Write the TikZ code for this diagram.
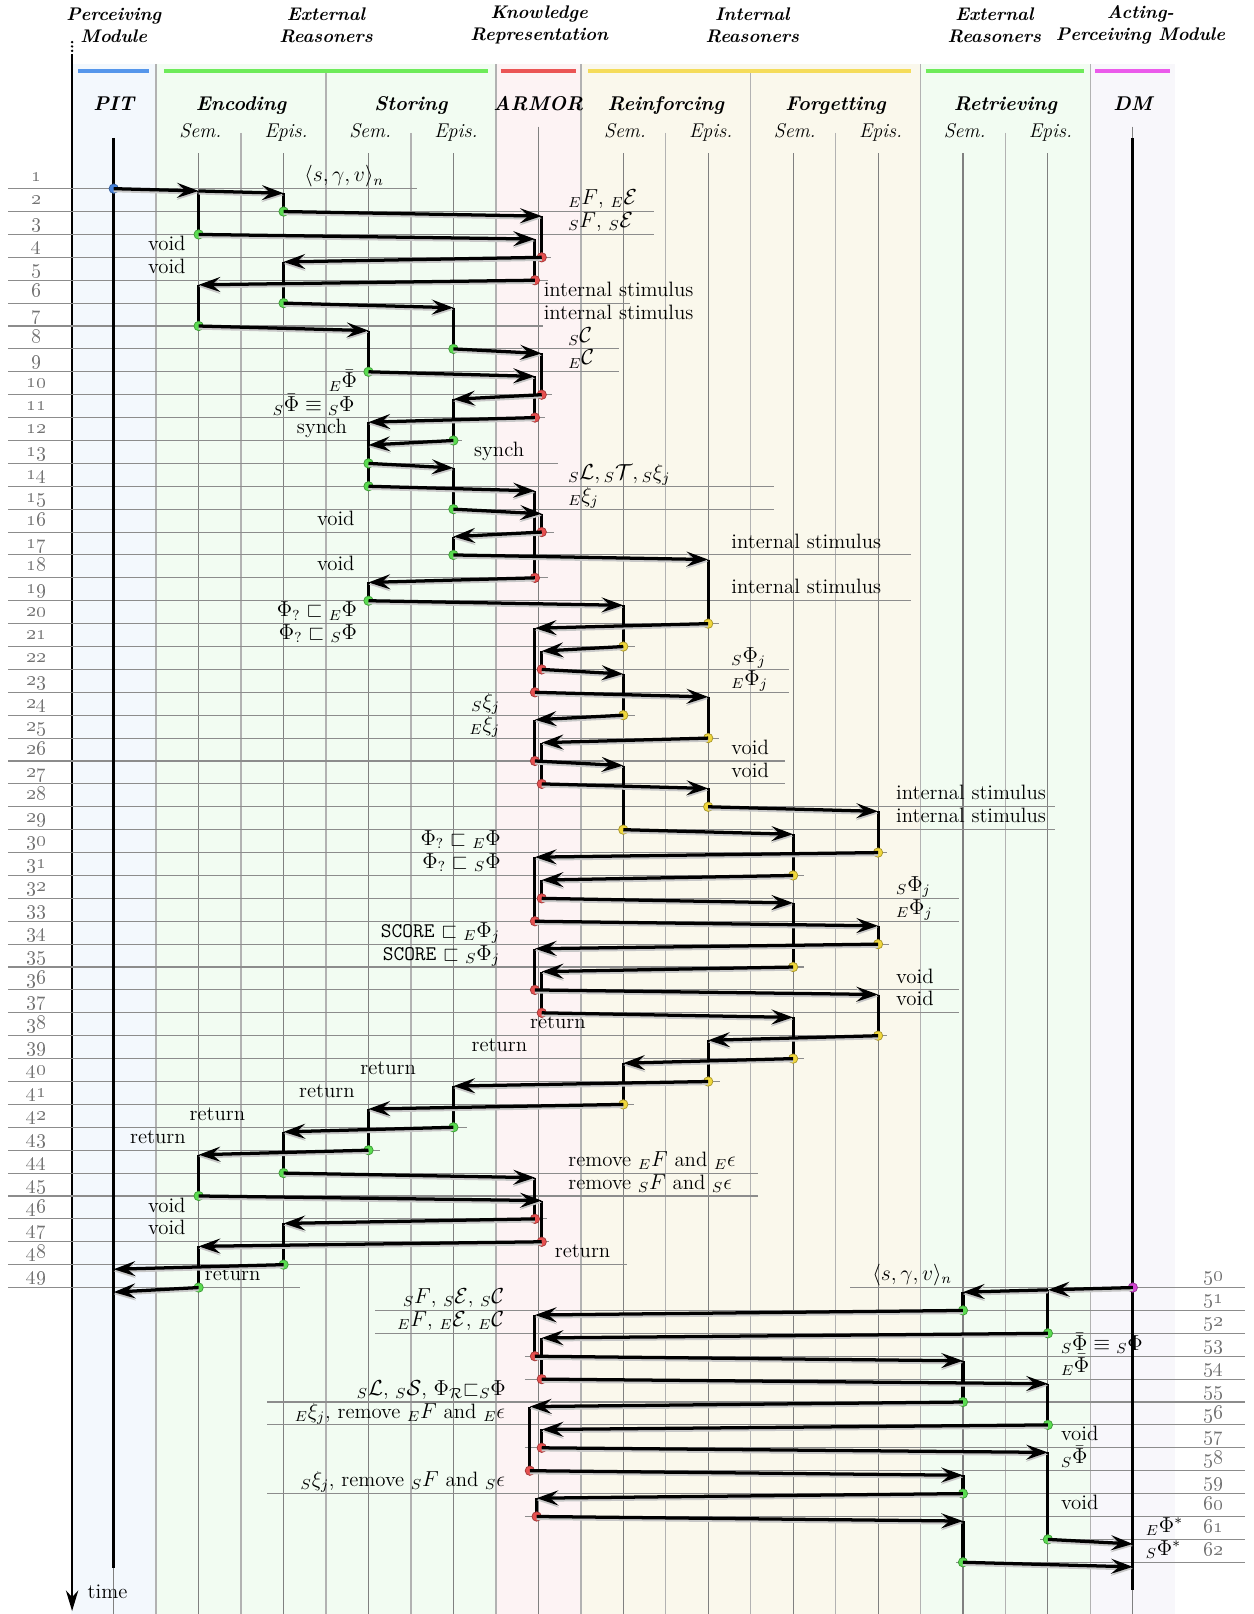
\documentclass[tikz,border=0pt]{standalone}
\usepackage{amsmath,amssymb}
\usepackage{xcolor}
\usepackage{tikz}
\usetikzlibrary{arrows.meta}

\definecolor{bgblue}{RGB}{243,248,253}
\definecolor{bggreen}{RGB}{242,252,242}
\definecolor{bgred}{RGB}{253,243,244}
\definecolor{bgyellow}{RGB}{250,248,236}
\definecolor{bgviolet}{RGB}{248,247,251}
\definecolor{barblue}{RGB}{85,150,235}
\definecolor{bargreen}{RGB}{110,235,90}
\definecolor{barred}{RGB}{235,85,85}
\definecolor{baryellow}{RGB}{245,220,90}
\definecolor{barviolet}{RGB}{235,90,235}
\definecolor{dotblue}{RGB}{70,130,220}
\definecolor{dotgreen}{RGB}{90,220,80}
\definecolor{dotred}{RGB}{230,80,80}
\definecolor{dotyellow}{RGB}{240,215,60}
\definecolor{dotviolet}{RGB}{210,70,210}

\begin{document}
\begin{tikzpicture}[x=1.65cm, y=-0.4448cm,
    msg/.style={line width=1.8pt, -{Stealth[length=4.2mm, width=2.9mm, inset=1.6mm]},
        preaction={draw=black!22, line width=1.8pt, transform canvas={yshift=-1.1pt}}},
    act/.style={line width=1.7pt},
    rowline/.style={black!45, line width=0.6pt},
    life/.style={black!50, line width=0.6pt},
    sep/.style={black!30, line width=0.8pt},
    lbl/.style={font=\fontsize{11.5}{13}\selectfont, inner sep=0pt, anchor=base west},
    lblr/.style={lbl, anchor=base east},
    rownum/.style={font=\fontsize{11}{13}\selectfont, text=black!55, inner sep=0pt, anchor=base},
    head/.style={font=\fontsize{10.1}{12.2}\selectfont\bfseries\itshape, align=center, inner sep=0pt},
    sub/.style={font=\fontsize{11}{12}\selectfont\itshape, inner sep=0pt, anchor=base}]
\useasboundingbox (-1.339,-7.24) rectangle (13.424,63.26);

% column backgrounds
\fill[bgblue] (-0.5,-4.45) rectangle (0.5,63.26);
\fill[bggreen] (0.5,-4.45) rectangle (4.5,63.26);
\fill[bgred] (4.5,-4.45) rectangle (5.5,63.26);
\fill[bgyellow] (5.5,-4.45) rectangle (9.5,63.26);
\fill[bggreen] (9.5,-4.45) rectangle (11.5,63.26);
\fill[bgviolet] (11.5,-4.45) rectangle (12.5,63.26);

% separators and lifelines
\foreach \x in {0.5,4.5,5.5,9.5,11.5}
    \draw[sep] (\x,-4.45) -- (\x,63.26);
\foreach \x in {2.5,7.5}
    \draw[sep] (\x,-4.1) -- (\x,63.26);
\foreach \x in {1.5,3.5,6.5,8.5,10.5}
    \draw[sep] (\x,-1.44) -- (\x,63.26);
\foreach \x in {1,2,3,4,6,7,8,9,10,11}
    \draw[life] (\x,-0.54) -- (\x,63.26);
\foreach \x in {5,12}
    \draw[life] (\x,-1.71) -- (\x,63.26);
\draw[life] (0,-1.22) -- (0,63.26);

% coloured bars
\draw[barblue, line width=2.4pt] (-0.42,-4.14) -- (0.42,-4.14);
\draw[bargreen, line width=2.4pt] (0.59,-4.14) -- (4.41,-4.14);
\draw[barred, line width=2.4pt] (4.56,-4.14) -- (5.44,-4.14);
\draw[baryellow, line width=2.4pt] (5.59,-4.14) -- (9.39,-4.14);
\draw[bargreen, line width=2.4pt] (9.56,-4.14) -- (11.43,-4.14);
\draw[barviolet, line width=2.4pt] (11.56,-4.14) -- (12.44,-4.14);

% headers
\node[head] (hpm) at (0,-6.14) {Perceiving\\Module};
\node[head] (her) at (2.5,-6.14) {External\\Reasoners};
\node[head] (hkr) at (5.01,-6.14) {Knowledge\\Representation};
\node[head] (hir) at (7.52,-6.14) {Internal\\Reasoners};
\node[head] (her2) at (10.37,-6.14) {External\\Reasoners};
\node[head] (hapm) at (12.09,-6.14) {Acting-\\Perceiving Module};

\foreach \x/\t in {0/PIT, 1.5/Encoding, 3.5/Storing, 5/ARMOR, 6.5/Reinforcing, 8.5/Forgetting, 10.5/Retrieving, 12/DM}
    \node[sub, font=\fontsize{11}{12}\selectfont\bfseries\itshape] (s\t) at (\x,-2.43) {\t};
\foreach \x in {1,3,6,8,10}
    \node[sub] (sem\x) at (\x+0.02,-1.22) {Sem.};
\foreach \x in {2,4,7,9,11}
    \node[sub] (epi\x) at (\x+0.03,-1.22) {Epis.};

% time axis
\draw[line width=1.5pt, line cap=round, dash pattern=on 0pt off 2.4pt] (-0.49,-5.4) -- (-0.49,-4.86);
\draw[line width=1.2pt, -{Stealth[length=4mm, width=2.4mm]}] (-0.49,-4.86) -- (-0.49,63.13);
\node[lbl] (time) at (-0.31,62.6) {time};

% row lines and numbers
\foreach \y/\e in {1/3.57, 2/6.36, 3/6.36, 4/5.15, 5/5.11, 6/6.08, 7/5.06, 8/5.95, 9/5.95, 10/5.16,
    11/5.08, 12/4.10, 13/5.23, 14/7.78, 15/7.78, 16/5.18, 17/9.39, 18/5.11, 19/9.39, 20/7.13,
    21/6.14, 22/7.95, 23/7.95, 24/6.14, 25/7.13, 26/7.91, 27/7.91, 28/11.08, 29/11.08, 30/9.11,
    31/8.13, 32/9.95, 33/9.95, 34/9.13, 35/8.13, 36/9.95, 37/9.95, 38/9.11, 39/8.13, 40/7.14,
    41/6.13, 42/4.16, 43/3.13, 44/7.59, 45/7.59, 46/5.10, 47/5.12, 48/6.04, 49/2.19}
    \draw[rowline] (-1.243,\y) -- (\e,\y);
\foreach \y/\s in {49/8.67, 50/3.08, 51/3.08, 52/4.84, 53/4.84, 54/1.81, 55/1.81, 56/4.84,
    57/4.84, 58/1.81, 59/4.84, 60/10.91, 61/9.92}
    \draw[rowline] (\s,\y) -- (13.32,\y);
\foreach \y in {1,...,49}
    \node[rownum] (n\y) at (-0.907,\y-0.3) {\oldstylenums{\y}};
\foreach \y in {50,...,62}
    \node[rownum] (n\y) at (12.95,\y-1.3) {\oldstylenums{\y}};

% message labels
\node[lbl] (l1) at (2.24,0.7) {$\langle s,\gamma,v\rangle_n$};
\node[lbl] (l2) at (5.35,1.7) {${}_{E}F$, ${}_{E}\mathcal{E}$};
\node[lbl] (l3) at (5.35,2.7) {${}_{S}F$, ${}_{S}\mathcal{E}$};
\node[lblr] (l4) at (0.85,3.7) {void};
\node[lblr] (l5) at (0.85,4.7) {void};
\node[lbl] (l6) at (5.06,5.7) {internal stimulus};
\node[lbl] (l7) at (5.06,6.7) {internal stimulus};
\node[lbl] (l8) at (5.35,7.7) {$_{S}\mathcal{C}$};
\node[lbl] (l9) at (5.35,8.7) {$_{E}\mathcal{C}$};
\node[lblr] (l10) at (2.87,9.7) {$_{E}\bar{\Phi}$};
\node[lblr] (l11) at (2.84,10.75) {$_{S}\bar{\Phi}\equiv{}_{S}\Phi$};
\node[lblr] (l12) at (2.75,11.7) {synch};
\node[lbl] (l13) at (4.24,12.7) {synch};
\node[lbl] (l14) at (5.35,13.7) {${}_{S}\mathcal{L},{}_{S}\mathcal{T},{}_{S}\xi_j$};
\node[lbl] (l15) at (5.35,14.7) {$_{E}\xi_j$};
\node[lblr] (l16) at (2.84,15.7) {void};
\node[lbl] (l17) at (7.27,16.7) {internal stimulus};
\node[lblr] (l18) at (2.84,17.7) {void};
\node[lbl] (l19) at (7.27,18.7) {internal stimulus};
\node[lblr] (l20) at (2.87,19.7) {$\Phi_?\sqsubset{}_{E}\Phi$};
\node[lblr] (l21) at (2.87,20.7) {$\Phi_?\sqsubset{}_{S}\Phi$};
\node[lbl] (l22) at (7.27,21.7) {$_{S}\Phi_j$};
\node[lbl] (l23) at (7.27,22.7) {$_{E}\Phi_j$};
\node[lblr] (l24) at (4.55,23.7) {$_{S}\xi_j$};
\node[lblr] (l25) at (4.55,24.7) {$_{E}\xi_j$};
\node[lbl] (l26) at (7.27,25.7) {void};
\node[lbl] (l27) at (7.27,26.7) {void};
\node[lbl] (l28) at (9.21,27.7) {internal stimulus};
\node[lbl] (l29) at (9.21,28.7) {internal stimulus};
\node[lblr] (l30) at (4.56,29.7) {$\Phi_?\sqsubset{}_{E}\Phi$};
\node[lblr] (l31) at (4.56,30.7) {$\Phi_?\sqsubset{}_{S}\Phi$};
\node[lbl] (l32) at (9.21,31.7) {$_{S}\Phi_j$};
\node[lbl] (l33) at (9.21,32.7) {$_{E}\Phi_j$};
\node[lblr] (l34) at (4.55,33.7) {\texttt{SCORE} $\sqsubset{}_{E}\Phi_j$};
\node[lblr] (l35) at (4.55,34.7) {\texttt{SCORE} $\sqsubset{}_{S}\Phi_j$};
\node[lbl] (l36) at (9.21,35.7) {void};
\node[lbl] (l37) at (9.21,36.7) {void};
\node[lbl] (l38) at (4.90,37.7) {return};
\node[lbl] (l39) at (4.21,38.7) {return};
\node[lbl] (l40) at (2.90,39.7) {return};
\node[lbl] (l41) at (2.18,40.7) {return};
\node[lbl] (l42) at (0.89,41.7) {return};
\node[lbl] (l43) at (0.19,42.7) {return};
\node[lbl] (l44) at (5.35,43.7) {remove $_{E}F$ and $_{E}\epsilon$};
\node[lbl] (l45) at (5.35,44.7) {remove $_{S}F$ and $_{S}\epsilon$};
\node[lblr] (l46) at (0.85,45.7) {void};
\node[lblr] (l47) at (0.85,46.7) {void};
\node[lbl] (l48) at (5.19,47.7) {return};
\node[lbl] (l49) at (1.07,48.7) {return};
\node[lbl] (l50) at (8.93,48.7) {$\langle s,\gamma,v\rangle_n$};
\node[lblr] (l51) at (4.6,49.7) {${}_{S}F$, ${}_{S}\mathcal{E}$, ${}_{S}\mathcal{C}$};
\node[lblr] (l52) at (4.6,50.7) {${}_{E}F$, ${}_{E}\mathcal{E}$, ${}_{E}\mathcal{C}$};
\node[lbl] (l53) at (11.15,51.75) {$_{S}\bar{\Phi}\equiv{}_{S}\Phi$};
\node[lbl] (l54) at (11.15,52.7) {$_{E}\bar{\Phi}$};
\node[lblr] (l55) at (4.62,53.7) {${}_{S}\mathcal{L}$, ${}_{S}\mathcal{S}$, $\Phi_{\mathcal{R}}{\sqsubset}_{S}\Phi$};
\node[lblr] (l56) at (4.61,54.7) {$_{E}\xi_j$, remove $_{E}F$ and $_{E}\epsilon$};
\node[lbl] (l57) at (11.15,55.7) {void};
\node[lbl] (l58) at (11.15,56.7) {$_{S}\bar{\Phi}$};
\node[lblr] (l59) at (4.61,57.7) {$_{S}\xi_j$, remove $_{S}F$ and $_{S}\epsilon$};
\node[lbl] (l60) at (11.15,58.7) {void};
\node[lbl] (l61) at (12.15,59.7) {$_{E}\Phi^*$};
\node[lbl] (l62) at (12.15,60.7) {$_{S}\Phi^*$};

% PIT and DM lifelines
\draw[act] (0,-1.22) -- (0,61.24);
\draw[act] (12,-1.22) -- (12,62.23);

% activations
\foreach \x/\ya/\yb in {1/1.1/3, 1/5.2/7, 1/43.2/45, 1/47.2/49, 2/1.2/2, 2/4.2/6, 2/42.2/44, 2/46.2/48,
    3/7.2/9, 3/11.2/14, 3/18.2/19, 3/41.2/43, 4/6.2/8, 4/10.2/12, 4/13.2/15, 4/16.2/17, 4/40.2/42,
    5.04/2.2/4, 5.04/8.2/10, 5.04/15.2/16, 5.04/21.2/22, 5.04/25.2/27, 5.04/31.2/32, 5.04/35.2/37,
    5.04/45.2/47, 5.04/51.2/53, 5.04/55.2/56, 4.96/3.2/5, 4.96/9.2/11, 4.96/14.2/18, 4.96/20.2/23,
    4.96/24.2/26, 4.96/30.2/33, 4.96/34.2/36, 4.96/44.2/46, 4.96/50.2/52, 4.9/54.2/57, 4.98/58.2/59,
    6/19.2/21, 6/22.2/24, 6/26.2/29, 6/39.2/41, 7/17.2/20, 7/23.2/25, 7/27.2/28, 7/38.2/40,
    8/29.2/31, 8/32.2/35, 8/37.2/39, 9/28.2/30, 9/33.2/34, 9/36.2/38,
    10/49.2/50, 10/52.2/54, 10/57.2/58, 10/59.2/61, 11/49.1/51, 11/53.2/55, 11/56.2/60}
    \draw[act] (\x,\ya) -- (\x,\yb);

% messages: row / sender / receiver / dot colour
\filldraw[fill=dotblue, draw=dotblue!70!black, line width=0.4pt] (0,1) circle (2.6pt);
\filldraw[fill=dotviolet, draw=dotviolet!70!black, line width=0.4pt] (12,49) circle (2.6pt);
\foreach \y/\xa/\xb/\col in {2/2/5.04/dotgreen, 3/1/4.96/dotgreen, 4/5.04/2/dotred, 5/4.96/1/dotred,
    6/2/4/dotgreen, 7/1/3/dotgreen, 8/4/5.04/dotgreen, 9/3/4.96/dotgreen, 10/5.04/4/dotred,
    11/4.96/3/dotred, 12/4/3/dotgreen, 13/3/4/dotgreen, 14/3/4.96/dotgreen, 15/4/5.04/dotgreen,
    16/5.04/4/dotred, 17/4/7/dotgreen, 18/4.96/3/dotred, 19/3/6/dotgreen, 20/7/4.96/dotyellow,
    21/6/5.04/dotyellow, 22/5.04/6/dotred, 23/4.96/7/dotred, 24/6/4.96/dotyellow, 25/7/5.04/dotyellow,
    26/4.96/6/dotred, 27/5.04/7/dotred, 28/7/9/dotyellow, 29/6/8/dotyellow, 30/9/4.96/dotyellow,
    31/8/5.04/dotyellow, 32/5.04/8/dotred, 33/4.96/9/dotred, 34/9/4.96/dotyellow, 35/8/5.04/dotyellow,
    36/4.96/9/dotred, 37/5.04/8/dotred, 38/9/7/dotyellow, 39/8/6/dotyellow, 40/7/4/dotyellow,
    41/6/3/dotyellow, 42/4/2/dotgreen, 43/3/1/dotgreen, 44/2/4.96/dotgreen, 45/1/5.04/dotgreen,
    46/4.96/2/dotred, 47/5.04/1/dotred, 48/2/0/dotgreen, 49/1/0/dotgreen,
    50/10/4.96/dotgreen, 51/11/5.04/dotgreen, 52/4.96/10/dotred, 53/5.04/11/dotred,
    54/10/4.9/dotgreen, 55/11/5.04/dotgreen, 56/5.04/11/dotred, 57/4.9/10/dotred,
    58/10/4.98/dotgreen, 59/4.98/10/dotred, 60/11/12/dotgreen, 61/10/12/dotgreen} {
    \filldraw[fill=\col, draw=\col!70!black, line width=0.4pt] (\xa,\y) circle (2.6pt);
    \draw[msg] (\xa,\y) -- (\xb,\y+0.2);
}
\draw[msg] (0,1) -- (1,1.1);
\draw[msg] (1,1.1) -- (2,1.2);
\draw[msg] (12,49) -- (11,49.1);
\draw[msg] (11,49.1) -- (10,49.2);
\end{tikzpicture}
\end{document}
